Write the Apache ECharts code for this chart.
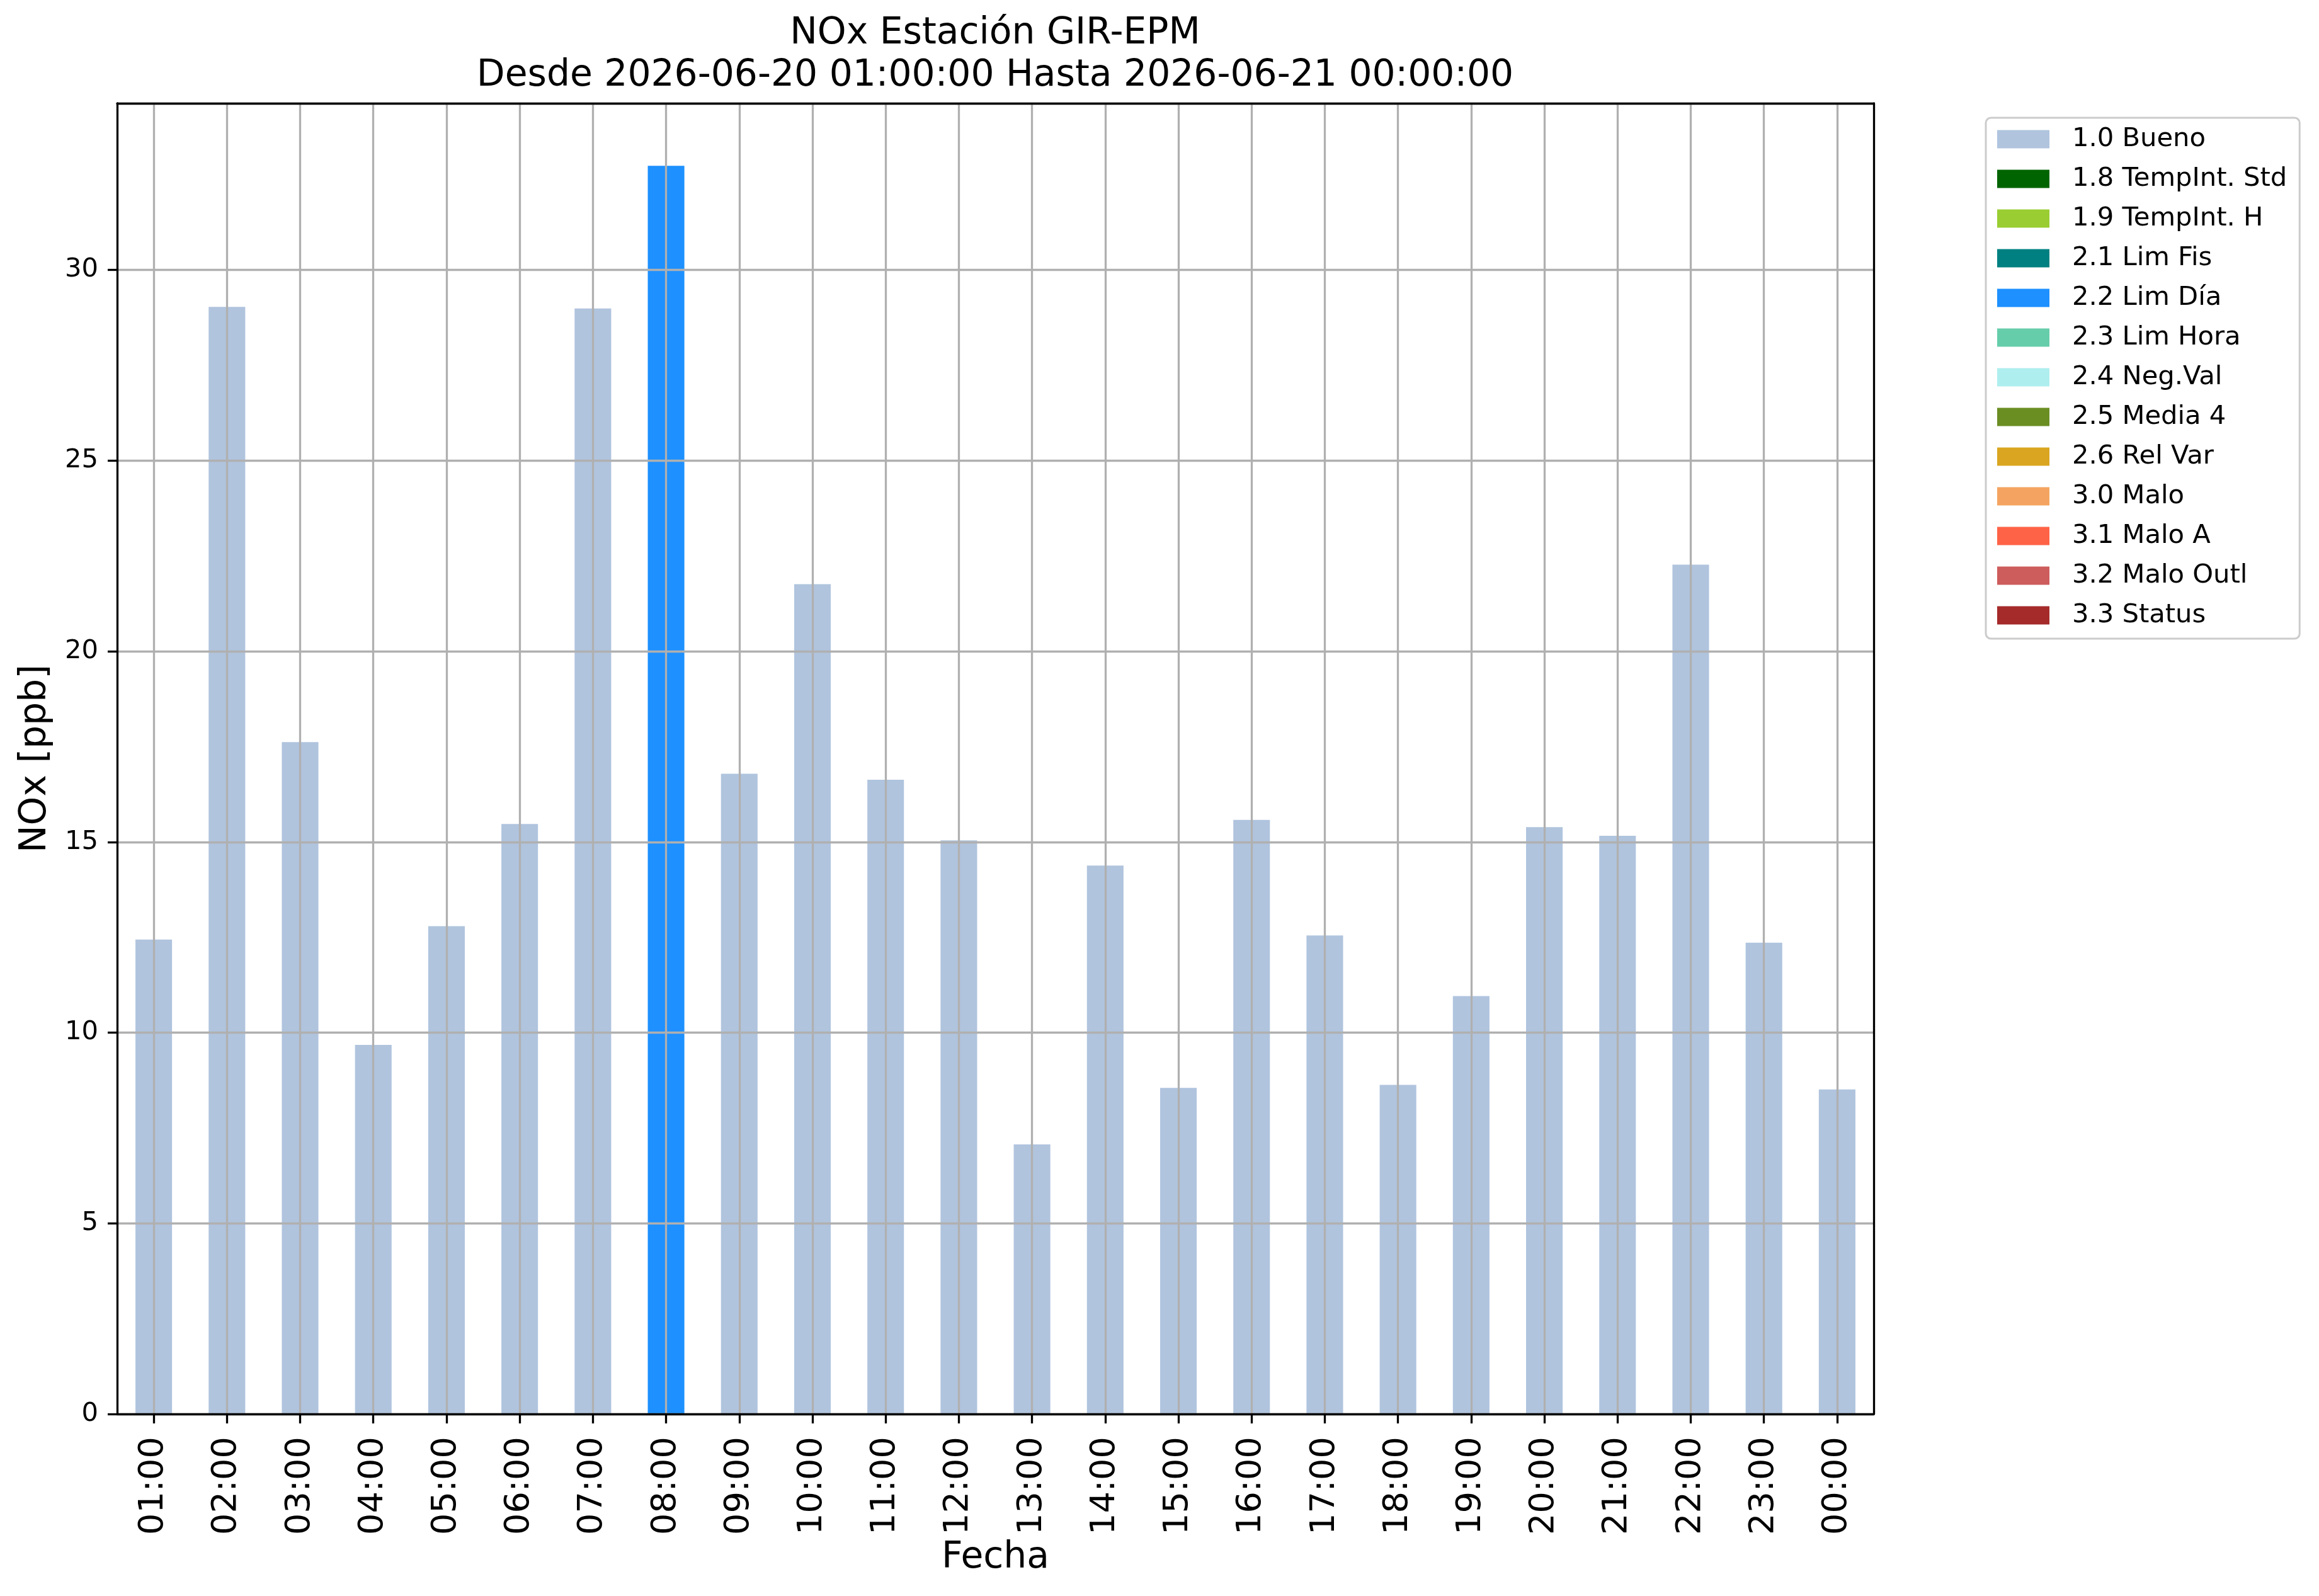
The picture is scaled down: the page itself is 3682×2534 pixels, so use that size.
<!DOCTYPE html>
<html>
<head>
<meta charset="UTF-8">
<title>NOx Estación GIR-EPM</title>
<script src="https://cdn.jsdelivr.net/npm/echarts@6/dist/echarts.min.js"></script>
<style>
  html, body { margin: 0; padding: 0; background: #fff; }
  #main { width: 3682px; height: 2534px; }
</style>
</head>
<body>
<div id="main"></div>
<script>
// horas del periodo
var horas = ['01:00', '02:00', '03:00', '04:00', '05:00', '06:00', '07:00', '08:00',
             '09:00', '10:00', '11:00', '12:00', '13:00', '14:00', '15:00', '16:00',
             '17:00', '18:00', '19:00', '20:00', '21:00', '22:00', '23:00', '00:00'];

// NOx [ppb] por hora
var valores = [12.44, 29.03, 17.62, 9.68, 12.79, 15.47, 28.99, 32.73,
               16.79, 21.76, 16.63, 15.04, 7.07, 14.38, 8.55, 15.58,
               12.55, 8.63, 10.96, 15.39, 15.16, 22.27, 12.36, 8.51];

// bandera de calidad de cada hora
var banderas = ['1.0 Bueno', '1.0 Bueno', '1.0 Bueno', '1.0 Bueno', '1.0 Bueno', '1.0 Bueno', '1.0 Bueno', '2.2 Lim Día',
                '1.0 Bueno', '1.0 Bueno', '1.0 Bueno', '1.0 Bueno', '1.0 Bueno', '1.0 Bueno', '1.0 Bueno', '1.0 Bueno',
                '1.0 Bueno', '1.0 Bueno', '1.0 Bueno', '1.0 Bueno', '1.0 Bueno', '1.0 Bueno', '1.0 Bueno', '1.0 Bueno'];

// categorias de la leyenda y sus colores
var categorias = ['1.0 Bueno', '1.8 TempInt. Std', '1.9 TempInt. H', '2.1 Lim Fis', '2.2 Lim Día',
                  '2.3 Lim Hora', '2.4 Neg.Val', '2.5 Media 4', '2.6 Rel Var', '3.0 Malo',
                  '3.1 Malo A', '3.2 Malo Outl', '3.3 Status'];
var colores = ['#B0C4DE', '#006400', '#9ACD32', '#008080', '#1E90FF',
               '#66CDAA', '#AFEEEE', '#6B8E23', '#DAA520', '#F4A460',
               '#FF6347', '#CD5C5C', '#A52A2A'];

var yTicks = [0, 5, 10, 15, 20, 25, 30];
var yMax = 34.37;

var fuente = 'DejaVu Sans';
var lw = 3.3;

var series = [];
for (var i = 0; i < categorias.length; i++) {
  var datos = [];
  for (var j = 0; j < horas.length; j++) {
    datos.push(banderas[j] === categorias[i] ? valores[j] : '-');
  }
  series.push({
    name: categorias[i],
    type: 'bar',
    stack: 'total',
    barWidth: '50%',
    xAxisIndex: 0,
    yAxisIndex: 0,
    itemStyle: { color: colores[i] },
    data: datos
  });
}

var myChart = echarts.init(document.getElementById('main'), null, { renderer: 'canvas' });

// solo el marco (lado superior y derecho)
var marco = { show: true, onZero: false, lineStyle: { color: '#000', width: lw } };

var option = {
  backgroundColor: '#ffffff',
  animation: false,
  textStyle: { fontFamily: fuente },
  title: {
    text: 'NOx Estación GIR-EPM\nDesde 2026-06-20 01:00:00 Hasta 2026-06-21 00:00:00',
    left: 1580,
    top: 20,
    textAlign: 'center',
    padding: 0,
    textStyle: {
      fontFamily: fuente,
      fontSize: 58.3,
      fontWeight: 'normal',
      color: '#000',
      lineHeight: 67
    }
  },
  grid: {
    left: 186,
    top: 164,
    right: 707,
    bottom: 289
  },
  legend: {
    orient: 'vertical',
    left: 3153,
    top: 187,
    padding: [13, 20, 16, 18],
    itemWidth: 83,
    itemHeight: 29,
    itemGap: 21,
    icon: 'rect',
    borderColor: '#cccccc',
    borderWidth: 3,
    borderRadius: 8,
    backgroundColor: '#fff',
    data: categorias,
    textStyle: {
      fontFamily: fuente,
      fontSize: 41.67,
      color: '#000',
      padding: [0, 0, 0, 31]
    }
  },
  xAxis: [{
    type: 'category',
    data: horas,
    z: 5,
    name: 'Fecha',
    nameLocation: 'middle',
    nameGap: 190,
    nameTextStyle: { fontFamily: fuente, fontSize: 58.3, color: '#000' },
    axisLine: { lineStyle: { color: '#000', width: lw } },
    axisTick: { show: true, alignWithLabel: true, length: 15, lineStyle: { color: '#000', width: lw } },
    axisLabel: { rotate: 90, margin: 36, fontFamily: fuente, fontSize: 54.17, color: '#000', interval: 0 },
    splitLine: { show: true, alignWithLabel: true, lineStyle: { color: '#b0b0b0', width: lw } }
  }, {
    type: 'category',
    data: horas,
    position: 'top',
    z: 10,
    axisLine: marco,
    axisTick: { show: false },
    axisLabel: { show: false },
    splitLine: { show: false }
  }],
  yAxis: [{
    type: 'value',
    min: yTicks[0],
    max: yMax,
    interval: yTicks[1] - yTicks[0],
    z: 5,
    name: 'NOx [ppb]',
    nameLocation: 'middle',
    nameGap: 100,
    nameTextStyle: { fontFamily: fuente, fontSize: 58.3, color: '#000' },
    axisLine: { show: true, lineStyle: { color: '#000', width: lw } },
    axisTick: { show: true, length: 15, lineStyle: { color: '#000', width: lw } },
    axisLabel: {
      margin: 30,
      fontFamily: fuente,
      fontSize: 41.67,
      color: '#000',
      showMaxLabel: false,
      formatter: function (v) { return yTicks.indexOf(v) >= 0 ? String(v) : ''; }
    },
    splitLine: { show: true, lineStyle: { color: '#b0b0b0', width: lw } }
  }, {
    type: 'value',
    min: yTicks[0],
    max: yMax,
    interval: yTicks[1] - yTicks[0],
    position: 'right',
    z: 10,
    axisLine: marco,
    axisTick: { show: false },
    axisLabel: { show: false },
    splitLine: { show: false }
  }],
  series: series
};

myChart.setOption(option);
</script>
</body>
</html>
